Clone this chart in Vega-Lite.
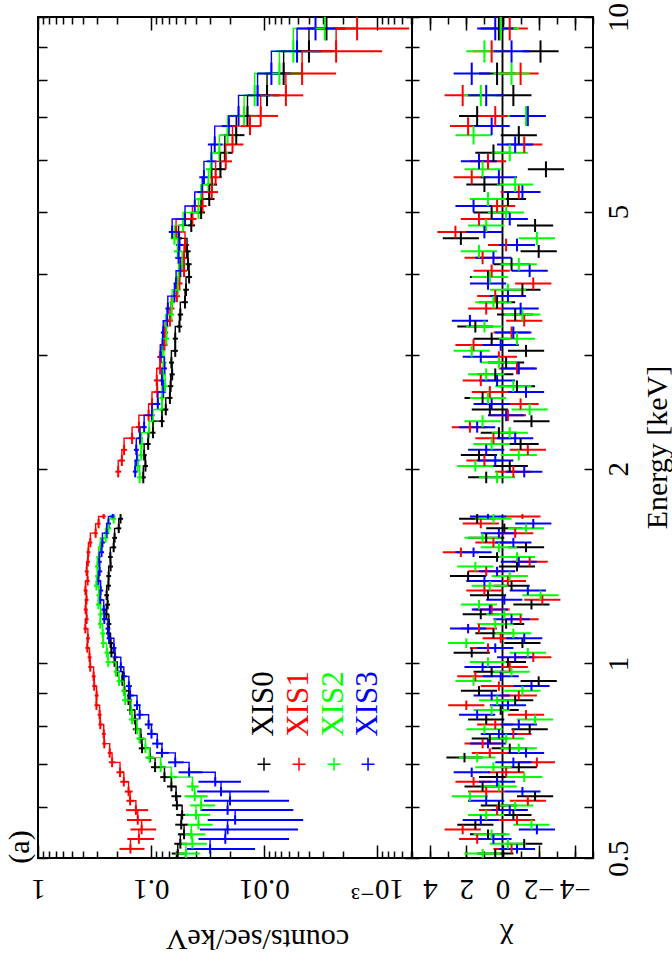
{
"$schema":"https://vega.github.io/schema/vega-lite/v6.json",
"background":"white",
"padding":{"left":3,"top":1,"right":0,"bottom":0},
"spacing":0,
"bounds":"flush",
"config":{
 "view":{"stroke":"#000","strokeWidth":2},
 "text":{"font":"'Liberation Serif', 'Times New Roman', 'DejaVu Serif', serif"},
 "axis":{"domain":false,"grid":false,"labelFont":"'Liberation Serif', 'Times New Roman', 'DejaVu Serif', serif","titleFont":"'Liberation Serif', 'Times New Roman', 'DejaVu Serif', serif","labelFontSize":29,"titleFontSize":30,"labelColor":"#000","titleColor":"#000","tickColor":"#000","tickWidth":1.5,"titleFontWeight":"normal","labelOverlap":false,"labelFlush":false,"labelBound":false}
},
"datasets":{
"leg":[{"d":"XIS0","x":0.01},{"d":"XIS1","x":0.0049},{"d":"XIS2","x":0.0024},{"d":"XIS3","x":0.0012}],
"zero":[{"a":0.5,"b":1.7},{"a":1.9,"b":10}],
"spec":[
{"d":"XIS0","e":0.508,"w":0.0085,"c":0.058,"u":0.0075,"r":0.4,"s":1},
{"d":"XIS0","e":0.526,"w":0.009,"c":0.055,"u":0.0072,"r":-1.2,"s":1},
{"d":"XIS0","e":0.544,"w":0.0095,"c":0.051,"u":0.0068,"r":0.8,"s":1},
{"d":"XIS0","e":0.563,"w":0.0095,"c":0.054,"u":0.007,"r":1.5,"s":1},
{"d":"XIS0","e":0.583,"w":0.01,"c":0.053,"u":0.0068,"r":-0.6,"s":1},
{"d":"XIS0","e":0.603,"w":0.01,"c":0.059,"u":0.006,"r":0.2,"s":1},
{"d":"XIS0","e":0.623,"w":0.0105,"c":0.060,"u":0.006,"r":-1.8,"s":1},
{"d":"XIS0","e":0.645,"w":0.011,"c":0.066,"u":0.0062,"r":1.1,"s":1},
{"d":"XIS0","e":0.667,"w":0.0115,"c":0.076,"u":0.0068,"r":0.3,"s":1},
{"d":"XIS0","e":0.691,"w":0.012,"c":0.092,"u":0.008,"r":-0.9,"s":1},
{"d":"XIS0","e":0.715,"w":0.012,"c":0.102,"u":0.0072,"r":2.1,"s":1},
{"d":"XIS0","e":0.739,"w":0.0125,"c":0.120,"u":0.0082,"r":-0.4,"s":1},
{"d":"XIS0","e":0.765,"w":0.013,"c":0.123,"u":0.0085,"r":0.7,"s":1},
{"d":"XIS0","e":0.791,"w":0.0135,"c":0.136,"u":0.009,"r":-1.5,"s":1},
{"d":"XIS0","e":0.819,"w":0.014,"c":0.139,"u":0.0095,"r":0.9,"s":1},
{"d":"XIS0","e":0.847,"w":0.0145,"c":0.152,"u":0.0102,"r":0.1,"s":1},
{"d":"XIS0","e":0.877,"w":0.015,"c":0.158,"u":0.0108,"r":-0.7,"s":1},
{"d":"XIS0","e":0.907,"w":0.0155,"c":0.172,"u":0.0088,"r":1.3,"s":1},
{"d":"XIS0","e":0.939,"w":0.016,"c":0.179,"u":0.009,"r":-2.0,"s":1},
{"d":"XIS0","e":0.971,"w":0.0165,"c":0.199,"u":0.0098,"r":0.6,"s":1},
{"d":"XIS0","e":1.005,"w":0.017,"c":0.210,"u":0.0104,"r":-0.3,"s":1},
{"d":"XIS0","e":1.039,"w":0.0175,"c":0.224,"u":0.011,"r":1.7,"s":1},
{"d":"XIS0","e":1.075,"w":0.0185,"c":0.228,"u":0.0112,"r":-1.1,"s":1},
{"d":"XIS0","e":1.113,"w":0.019,"c":0.238,"u":0.0116,"r":0.5,"s":1},
{"d":"XIS0","e":1.151,"w":0.0195,"c":0.236,"u":0.0116,"r":-0.2,"s":1},
{"d":"XIS0","e":1.191,"w":0.0205,"c":0.248,"u":0.012,"r":1.2,"s":1},
{"d":"XIS0","e":1.233,"w":0.021,"c":0.242,"u":0.0118,"r":-1.6,"s":1},
{"d":"XIS0","e":1.275,"w":0.0215,"c":0.247,"u":0.012,"r":0.8,"s":1},
{"d":"XIS0","e":1.319,"w":0.0225,"c":0.238,"u":0.0116,"r":-0.5,"s":1},
{"d":"XIS0","e":1.365,"w":0.023,"c":0.237,"u":0.0116,"r":1.9,"s":1},
{"d":"XIS0","e":1.412,"w":0.024,"c":0.228,"u":0.0112,"r":-0.8,"s":1},
{"d":"XIS0","e":1.461,"w":0.025,"c":0.229,"u":0.011,"r":0.3,"s":1},
{"d":"XIS0","e":1.512,"w":0.026,"c":0.214,"u":0.0106,"r":-1.3,"s":1},
{"d":"XIS0","e":1.564,"w":0.0265,"c":0.210,"u":0.0102,"r":0.9,"s":1},
{"d":"XIS0","e":1.618,"w":0.0275,"c":0.193,"u":0.0096,"r":-0.1,"s":1},
{"d":"XIS0","e":1.674,"w":0.0285,"c":0.186,"u":0.0094,"r":1.4,"s":1},
{"d":"XIS0","e":1.94,"w":0.04,"c":0.117,"u":0.0058,"r":0.9,"s":1},
{"d":"XIS0","e":2.02,"w":0.04,"c":0.112,"u":0.0056,"r":-0.4,"s":1},
{"d":"XIS0","e":2.10,"w":0.04,"c":0.115,"u":0.0057,"r":1.3,"s":1},
{"d":"XIS0","e":2.185,"w":0.045,"c":0.106,"u":0.0053,"r":-1.0,"s":1},
{"d":"XIS0","e":2.275,"w":0.045,"c":0.096,"u":0.0048,"r":0.2,"s":1},
{"d":"XIS0","e":2.37,"w":0.05,"c":0.080,"u":0.0041,"r":-1.6,"s":1},
{"d":"XIS0","e":2.47,"w":0.05,"c":0.074,"u":0.0038,"r":0.7,"s":1},
{"d":"XIS0","e":2.575,"w":0.055,"c":0.068,"u":0.0035,"r":1.1,"s":1},
{"d":"XIS0","e":2.685,"w":0.055,"c":0.067,"u":0.0035,"r":-0.8,"s":1},
{"d":"XIS0","e":2.80,"w":0.06,"c":0.065,"u":0.0034,"r":0.4,"s":1},
{"d":"XIS0","e":2.92,"w":0.06,"c":0.066,"u":0.0034,"r":-0.2,"s":1},
{"d":"XIS0","e":3.045,"w":0.065,"c":0.061,"u":0.0032,"r":-1.3,"s":1},
{"d":"XIS0","e":3.18,"w":0.07,"c":0.061,"u":0.0032,"r":0.6,"s":1},
{"d":"XIS0","e":3.32,"w":0.07,"c":0.056,"u":0.003,"r":1.5,"s":1},
{"d":"XIS0","e":3.465,"w":0.075,"c":0.055,"u":0.003,"r":-0.7,"s":1},
{"d":"XIS0","e":3.62,"w":0.08,"c":0.050,"u":0.0028,"r":0.3,"s":1},
{"d":"XIS0","e":3.785,"w":0.085,"c":0.049,"u":0.0028,"r":-1.1,"s":1},
{"d":"XIS0","e":3.96,"w":0.09,"c":0.046,"u":0.0027,"r":0.8,"s":1},
{"d":"XIS0","e":4.145,"w":0.095,"c":0.047,"u":0.0033,"r":-0.5,"s":1},
{"d":"XIS0","e":4.34,"w":0.1,"c":0.048,"u":0.0034,"r":-2.0,"s":1},
{"d":"XIS0","e":4.545,"w":0.105,"c":0.057,"u":0.0038,"r":2.3,"s":1},
{"d":"XIS0","e":4.76,"w":0.11,"c":0.044,"u":0.0032,"r":-1.8,"s":1},
{"d":"XIS0","e":4.985,"w":0.115,"c":0.036,"u":0.0027,"r":0.6,"s":1},
{"d":"XIS0","e":5.23,"w":0.13,"c":0.0305,"u":0.0031,"r":-0.3,"s":1},
{"d":"XIS0","e":5.505,"w":0.145,"c":0.029,"u":0.003,"r":1.0,"s":1},
{"d":"XIS0","e":5.815,"w":0.165,"c":0.0243,"u":0.0026,"r":-2.4,"s":1},
{"d":"XIS0","e":6.165,"w":0.185,"c":0.0222,"u":0.0033,"r":0.5,"s":1},
{"d":"XIS0","e":6.565,"w":0.215,"c":0.0176,"u":0.0027,"r":-0.9,"s":1},
{"d":"XIS0","e":7.03,"w":0.25,"c":0.0140,"u":0.0031,"r":1.4,"s":1},
{"d":"XIS0","e":7.565,"w":0.285,"c":0.0094,"u":0.0021,"r":-0.6,"s":1},
{"d":"XIS0","e":8.175,"w":0.325,"c":0.0067,"u":0.0022,"r":0.3,"s":1},
{"d":"XIS0","e":8.85,"w":0.35,"c":0.0040,"u":0.0016,"r":-2.1,"s":1},
{"d":"XIS0","e":9.6,"w":0.4,"c":0.0028,"u":0.0013,"r":0.2,"s":1},
{"d":"XIS1","e":0.5165,"w":0.0085,"c":0.152,"u":0.038,"r":-0.5,"s":1},
{"d":"XIS1","e":0.535,"w":0.009,"c":0.128,"u":0.034,"r":1.4,"s":1},
{"d":"XIS1","e":0.5535,"w":0.0095,"c":0.121,"u":0.031,"r":2.2,"s":1},
{"d":"XIS1","e":0.5725,"w":0.0095,"c":0.131,"u":0.032,"r":-0.8,"s":1},
{"d":"XIS1","e":0.593,"w":0.01,"c":0.136,"u":0.03,"r":0.3,"s":1},
{"d":"XIS1","e":0.613,"w":0.01,"c":0.153,"u":0.012,"r":-1.4,"s":1},
{"d":"XIS1","e":0.6335,"w":0.0105,"c":0.158,"u":0.0125,"r":0.9,"s":1},
{"d":"XIS1","e":0.656,"w":0.011,"c":0.174,"u":0.013,"r":1.6,"s":1},
{"d":"XIS1","e":0.6785,"w":0.0115,"c":0.188,"u":0.014,"r":-0.2,"s":1},
{"d":"XIS1","e":0.703,"w":0.012,"c":0.221,"u":0.015,"r":-1.9,"s":1},
{"d":"XIS1","e":0.727,"w":0.012,"c":0.232,"u":0.0093,"r":0.7,"s":1},
{"d":"XIS1","e":0.7515,"w":0.0125,"c":0.259,"u":0.0104,"r":1.1,"s":1},
{"d":"XIS1","e":0.778,"w":0.013,"c":0.262,"u":0.0105,"r":-0.6,"s":1},
{"d":"XIS1","e":0.8045,"w":0.0135,"c":0.281,"u":0.0112,"r":0.4,"s":1},
{"d":"XIS1","e":0.833,"w":0.014,"c":0.285,"u":0.0114,"r":-1.3,"s":1},
{"d":"XIS1","e":0.8615,"w":0.0145,"c":0.304,"u":0.0122,"r":2.0,"s":1},
{"d":"XIS1","e":0.892,"w":0.015,"c":0.303,"u":0.0121,"r":-0.9,"s":1},
{"d":"XIS1","e":0.9225,"w":0.0155,"c":0.318,"u":0.0127,"r":0.2,"s":1},
{"d":"XIS1","e":0.955,"w":0.016,"c":0.322,"u":0.0129,"r":1.5,"s":1},
{"d":"XIS1","e":0.9875,"w":0.0165,"c":0.345,"u":0.0138,"r":-0.4,"s":1},
{"d":"XIS1","e":1.022,"w":0.017,"c":0.350,"u":0.014,"r":-1.7,"s":1},
{"d":"XIS1","e":1.0565,"w":0.0175,"c":0.366,"u":0.0146,"r":0.8,"s":1},
{"d":"XIS1","e":1.0935,"w":0.0185,"c":0.362,"u":0.0145,"r":0.1,"s":1},
{"d":"XIS1","e":1.132,"w":0.019,"c":0.381,"u":0.0152,"r":1.3,"s":1},
{"d":"XIS1","e":1.1705,"w":0.0195,"c":0.371,"u":0.0148,"r":-1.0,"s":1},
{"d":"XIS1","e":1.2115,"w":0.0205,"c":0.379,"u":0.0152,"r":0.6,"s":1},
{"d":"XIS1","e":1.254,"w":0.021,"c":0.372,"u":0.0149,"r":-2.2,"s":1},
{"d":"XIS1","e":1.2965,"w":0.0215,"c":0.380,"u":0.0152,"r":1.0,"s":1},
{"d":"XIS1","e":1.3415,"w":0.0225,"c":0.364,"u":0.0146,"r":-0.3,"s":1},
{"d":"XIS1","e":1.388,"w":0.023,"c":0.371,"u":0.0148,"r":0.9,"s":1},
{"d":"XIS1","e":1.436,"w":0.024,"c":0.362,"u":0.0145,"r":-1.5,"s":1},
{"d":"XIS1","e":1.486,"w":0.025,"c":0.358,"u":0.0143,"r":2.3,"s":1},
{"d":"XIS1","e":1.538,"w":0.026,"c":0.344,"u":0.0138,"r":0.5,"s":1},
{"d":"XIS1","e":1.5905,"w":0.0265,"c":0.309,"u":0.0124,"r":-0.7,"s":1},
{"d":"XIS1","e":1.6455,"w":0.0275,"c":0.291,"u":0.0116,"r":1.2,"s":1},
{"d":"XIS1","e":1.688,"w":0.015,"c":0.262,"u":0.0105,"r":-1.1,"s":1},
{"d":"XIS1","e":1.98,"w":0.04,"c":0.195,"u":0.0117,"r":-0.6,"s":1},
{"d":"XIS1","e":2.06,"w":0.04,"c":0.181,"u":0.0109,"r":1.0,"s":1},
{"d":"XIS1","e":2.14,"w":0.04,"c":0.173,"u":0.0104,"r":-1.4,"s":1},
{"d":"XIS1","e":2.23,"w":0.045,"c":0.147,"u":0.0088,"r":0.5,"s":1},
{"d":"XIS1","e":2.32,"w":0.045,"c":0.128,"u":0.0077,"r":1.8,"s":1},
{"d":"XIS1","e":2.42,"w":0.05,"c":0.105,"u":0.0063,"r":-0.3,"s":1},
{"d":"XIS1","e":2.52,"w":0.05,"c":0.098,"u":0.0059,"r":-1.0,"s":1},
{"d":"XIS1","e":2.63,"w":0.055,"c":0.088,"u":0.0053,"r":0.7,"s":1},
{"d":"XIS1","e":2.74,"w":0.055,"c":0.089,"u":0.0053,"r":1.2,"s":1},
{"d":"XIS1","e":2.86,"w":0.06,"c":0.083,"u":0.005,"r":-0.8,"s":1},
{"d":"XIS1","e":2.98,"w":0.06,"c":0.083,"u":0.005,"r":0.2,"s":1},
{"d":"XIS1","e":3.11,"w":0.065,"c":0.076,"u":0.0046,"r":1.6,"s":1},
{"d":"XIS1","e":3.25,"w":0.07,"c":0.075,"u":0.0045,"r":-0.5,"s":1},
{"d":"XIS1","e":3.39,"w":0.07,"c":0.068,"u":0.0041,"r":-1.2,"s":1},
{"d":"XIS1","e":3.54,"w":0.075,"c":0.066,"u":0.004,"r":0.9,"s":1},
{"d":"XIS1","e":3.70,"w":0.08,"c":0.059,"u":0.0035,"r":0.4,"s":1},
{"d":"XIS1","e":3.87,"w":0.085,"c":0.056,"u":0.0034,"r":-1.7,"s":1},
{"d":"XIS1","e":4.05,"w":0.09,"c":0.051,"u":0.0031,"r":0.6,"s":1},
{"d":"XIS1","e":4.24,"w":0.095,"c":0.051,"u":0.0041,"r":1.1,"s":1},
{"d":"XIS1","e":4.44,"w":0.1,"c":0.050,"u":0.004,"r":-0.2,"s":1},
{"d":"XIS1","e":4.65,"w":0.105,"c":0.060,"u":0.0048,"r":2.6,"s":1},
{"d":"XIS1","e":4.87,"w":0.11,"c":0.043,"u":0.0034,"r":1.3,"s":1},
{"d":"XIS1","e":5.10,"w":0.115,"c":0.035,"u":0.0028,"r":0.3,"s":1},
{"d":"XIS1","e":5.36,"w":0.13,"c":0.029,"u":0.0035,"r":-0.9,"s":1},
{"d":"XIS1","e":5.65,"w":0.145,"c":0.0268,"u":0.0032,"r":1.7,"s":1},
{"d":"XIS1","e":5.98,"w":0.165,"c":0.0218,"u":0.0026,"r":0.8,"s":1},
{"d":"XIS1","e":6.35,"w":0.185,"c":0.0190,"u":0.0038,"r":-1.2,"s":1},
{"d":"XIS1","e":6.78,"w":0.215,"c":0.0133,"u":0.0027,"r":1.9,"s":1},
{"d":"XIS1","e":7.03,"w":0.25,"c":0.0107,"u":0.0032,"r":0.4,"s":1},
{"d":"XIS1","e":7.565,"w":0.285,"c":0.0064,"u":0.0019,"r":2.2,"s":1},
{"d":"XIS1","e":8.175,"w":0.325,"c":0.0046,"u":0.0023,"r":-1.0,"s":1},
{"d":"XIS1","e":8.85,"w":0.35,"c":0.0023,"u":0.0014,"r":0.6,"s":1},
{"d":"XIS1","e":9.6,"w":0.4,"c":0.0015,"u":0.00098,"r":-0.4,"s":1},
{"d":"XIS2","e":0.508,"w":0.0085,"c":0.049,"u":0.012,"r":1.1,"s":1},
{"d":"XIS2","e":0.526,"w":0.009,"c":0.043,"u":0.011,"r":-0.3,"s":1},
{"d":"XIS2","e":0.544,"w":0.0095,"c":0.044,"u":0.011,"r":0.6,"s":1},
{"d":"XIS2","e":0.563,"w":0.0095,"c":0.038,"u":0.0095,"r":-1.6,"s":1},
{"d":"XIS2","e":0.583,"w":0.01,"c":0.040,"u":0.01,"r":0.9,"s":1},
{"d":"XIS2","e":0.603,"w":0.01,"c":0.036,"u":0.009,"r":-0.7,"s":1},
{"d":"XIS2","e":0.623,"w":0.0105,"c":0.041,"u":0.0095,"r":1.8,"s":1},
{"d":"XIS2","e":0.645,"w":0.011,"c":0.043,"u":0.0052,"r":0.2,"s":1},
{"d":"XIS2","e":0.667,"w":0.0115,"c":0.066,"u":0.0075,"r":-1.2,"s":1},
{"d":"XIS2","e":0.691,"w":0.012,"c":0.082,"u":0.0085,"r":0.5,"s":1},
{"d":"XIS2","e":0.715,"w":0.012,"c":0.103,"u":0.0095,"r":1.4,"s":1},
{"d":"XIS2","e":0.739,"w":0.0125,"c":0.112,"u":0.0078,"r":-0.9,"s":1},
{"d":"XIS2","e":0.765,"w":0.013,"c":0.126,"u":0.0088,"r":-0.2,"s":1},
{"d":"XIS2","e":0.791,"w":0.0135,"c":0.133,"u":0.0093,"r":1.0,"s":1},
{"d":"XIS2","e":0.819,"w":0.014,"c":0.147,"u":0.0103,"r":-1.8,"s":1},
{"d":"XIS2","e":0.847,"w":0.0145,"c":0.150,"u":0.0105,"r":0.6,"s":1},
{"d":"XIS2","e":0.877,"w":0.015,"c":0.169,"u":0.0118,"r":0.3,"s":1},
{"d":"XIS2","e":0.907,"w":0.0155,"c":0.174,"u":0.0087,"r":-1.1,"s":1},
{"d":"XIS2","e":0.939,"w":0.016,"c":0.192,"u":0.0096,"r":1.6,"s":1},
{"d":"XIS2","e":0.971,"w":0.0165,"c":0.204,"u":0.0102,"r":-0.5,"s":1},
{"d":"XIS2","e":1.005,"w":0.017,"c":0.239,"u":0.012,"r":0.8,"s":1},
{"d":"XIS2","e":1.039,"w":0.0175,"c":0.246,"u":0.0123,"r":-1.4,"s":1},
{"d":"XIS2","e":1.075,"w":0.0185,"c":0.265,"u":0.0133,"r":2.0,"s":1},
{"d":"XIS2","e":1.113,"w":0.019,"c":0.268,"u":0.0134,"r":-0.6,"s":1},
{"d":"XIS2","e":1.151,"w":0.0195,"c":0.281,"u":0.014,"r":0.4,"s":1},
{"d":"XIS2","e":1.191,"w":0.0205,"c":0.279,"u":0.014,"r":-0.1,"s":1},
{"d":"XIS2","e":1.233,"w":0.021,"c":0.292,"u":0.0146,"r":1.3,"s":1},
{"d":"XIS2","e":1.275,"w":0.0215,"c":0.290,"u":0.0145,"r":-2.1,"s":1},
{"d":"XIS2","e":1.319,"w":0.0225,"c":0.304,"u":0.0152,"r":0.7,"s":1},
{"d":"XIS2","e":1.365,"w":0.023,"c":0.297,"u":0.0149,"r":-0.4,"s":1},
{"d":"XIS2","e":1.412,"w":0.024,"c":0.298,"u":0.0149,"r":1.5,"s":1},
{"d":"XIS2","e":1.461,"w":0.025,"c":0.290,"u":0.0145,"r":-0.8,"s":1},
{"d":"XIS2","e":1.512,"w":0.026,"c":0.281,"u":0.014,"r":0.2,"s":1},
{"d":"XIS2","e":1.564,"w":0.0265,"c":0.252,"u":0.0126,"r":1.1,"s":1},
{"d":"XIS2","e":1.618,"w":0.0275,"c":0.238,"u":0.0119,"r":-1.3,"s":1},
{"d":"XIS2","e":1.674,"w":0.0285,"c":0.214,"u":0.0107,"r":0.5,"s":1},
{"d":"XIS2","e":1.94,"w":0.04,"c":0.126,"u":0.0069,"r":0.3,"s":1},
{"d":"XIS2","e":2.02,"w":0.04,"c":0.131,"u":0.0072,"r":1.5,"s":1},
{"d":"XIS2","e":2.10,"w":0.04,"c":0.122,"u":0.0067,"r":-0.9,"s":1},
{"d":"XIS2","e":2.185,"w":0.045,"c":0.121,"u":0.0067,"r":0.6,"s":1},
{"d":"XIS2","e":2.275,"w":0.045,"c":0.104,"u":0.0057,"r":-0.4,"s":1},
{"d":"XIS2","e":2.37,"w":0.05,"c":0.096,"u":0.0053,"r":1.1,"s":1},
{"d":"XIS2","e":2.47,"w":0.05,"c":0.080,"u":0.0044,"r":-1.5,"s":1},
{"d":"XIS2","e":2.575,"w":0.055,"c":0.080,"u":0.0044,"r":0.8,"s":1},
{"d":"XIS2","e":2.685,"w":0.055,"c":0.075,"u":0.0041,"r":-0.6,"s":1},
{"d":"XIS2","e":2.80,"w":0.06,"c":0.078,"u":0.0043,"r":0.9,"s":1},
{"d":"XIS2","e":2.92,"w":0.06,"c":0.077,"u":0.0042,"r":0.2,"s":1},
{"d":"XIS2","e":3.045,"w":0.065,"c":0.080,"u":0.0044,"r":1.7,"s":1},
{"d":"XIS2","e":3.18,"w":0.07,"c":0.073,"u":0.004,"r":-0.8,"s":1},
{"d":"XIS2","e":3.32,"w":0.07,"c":0.074,"u":0.0041,"r":1.0,"s":1},
{"d":"XIS2","e":3.465,"w":0.075,"c":0.066,"u":0.0036,"r":-1.1,"s":1},
{"d":"XIS2","e":3.62,"w":0.08,"c":0.065,"u":0.0036,"r":0.5,"s":1},
{"d":"XIS2","e":3.785,"w":0.085,"c":0.058,"u":0.0032,"r":-0.3,"s":1},
{"d":"XIS2","e":3.96,"w":0.09,"c":0.057,"u":0.0031,"r":0.7,"s":1},
{"d":"XIS2","e":4.145,"w":0.095,"c":0.053,"u":0.0042,"r":-0.9,"s":1},
{"d":"XIS2","e":4.34,"w":0.1,"c":0.058,"u":0.0046,"r":1.3,"s":1},
{"d":"XIS2","e":4.545,"w":0.105,"c":0.062,"u":0.005,"r":-1.9,"s":1},
{"d":"XIS2","e":4.76,"w":0.11,"c":0.052,"u":0.0042,"r":0.9,"s":1},
{"d":"XIS2","e":4.985,"w":0.115,"c":0.038,"u":0.003,"r":-0.2,"s":1},
{"d":"XIS2","e":5.23,"w":0.13,"c":0.0362,"u":0.004,"r":0.8,"s":1},
{"d":"XIS2","e":5.505,"w":0.145,"c":0.0310,"u":0.0034,"r":-0.7,"s":1},
{"d":"XIS2","e":5.815,"w":0.165,"c":0.0296,"u":0.0033,"r":1.1,"s":1},
{"d":"XIS2","e":6.165,"w":0.185,"c":0.0248,"u":0.004,"r":-0.4,"s":1},
{"d":"XIS2","e":6.565,"w":0.215,"c":0.0210,"u":0.0034,"r":1.6,"s":1},
{"d":"XIS2","e":7.03,"w":0.25,"c":0.0150,"u":0.0036,"r":-1.3,"s":1},
{"d":"XIS2","e":7.565,"w":0.285,"c":0.0121,"u":0.0029,"r":1.2,"s":1},
{"d":"XIS2","e":8.175,"w":0.325,"c":0.0073,"u":0.0026,"r":-0.5,"s":1},
{"d":"XIS2","e":8.85,"w":0.35,"c":0.0055,"u":0.0023,"r":1.0,"s":1},
{"d":"XIS2","e":9.6,"w":0.4,"c":0.0029,"u":0.0014,"r":0.1,"s":1},
{"d":"XIS3","e":0.5165,"w":0.0085,"c":0.030,"u":0.018,"r":-0.8,"s":1},
{"d":"XIS3","e":0.535,"w":0.009,"c":0.022,"u":0.016,"r":0.5,"s":1},
{"d":"XIS3","e":0.5535,"w":0.0095,"c":0.021,"u":0.016,"r":-1.9,"s":1},
{"d":"XIS3","e":0.5725,"w":0.0095,"c":0.018,"u":0.0135,"r":1.2,"s":1},
{"d":"XIS3","e":0.593,"w":0.01,"c":0.021,"u":0.0155,"r":-0.4,"s":1},
{"d":"XIS3","e":0.613,"w":0.01,"c":0.020,"u":0.014,"r":0.9,"s":1},
{"d":"XIS3","e":0.6335,"w":0.0105,"c":0.024,"u":0.015,"r":-1.1,"s":1},
{"d":"XIS3","e":0.656,"w":0.011,"c":0.027,"u":0.011,"r":0.3,"s":1},
{"d":"XIS3","e":0.6785,"w":0.0115,"c":0.046,"u":0.011,"r":1.7,"s":1},
{"d":"XIS3","e":0.703,"w":0.012,"c":0.061,"u":0.0095,"r":-0.6,"s":1},
{"d":"XIS3","e":0.727,"w":0.012,"c":0.080,"u":0.0105,"r":-1.3,"s":1},
{"d":"XIS3","e":0.7515,"w":0.0125,"c":0.088,"u":0.0097,"r":0.8,"s":1},
{"d":"XIS3","e":0.778,"w":0.013,"c":0.099,"u":0.0095,"r":0.2,"s":1},
{"d":"XIS3","e":0.8045,"w":0.0135,"c":0.105,"u":0.0084,"r":-0.9,"s":1},
{"d":"XIS3","e":0.833,"w":0.014,"c":0.126,"u":0.0088,"r":1.4,"s":1},
{"d":"XIS3","e":0.8615,"w":0.0145,"c":0.133,"u":0.0093,"r":-0.3,"s":1},
{"d":"XIS3","e":0.892,"w":0.015,"c":0.153,"u":0.0106,"r":0.6,"s":1},
{"d":"XIS3","e":0.9225,"w":0.0155,"c":0.157,"u":0.0094,"r":-1.6,"s":1},
{"d":"XIS3","e":0.955,"w":0.016,"c":0.174,"u":0.0104,"r":0.1,"s":1},
{"d":"XIS3","e":0.9875,"w":0.0165,"c":0.185,"u":0.0093,"r":1.1,"s":1},
{"d":"XIS3","e":1.022,"w":0.017,"c":0.208,"u":0.0104,"r":-0.7,"s":1},
{"d":"XIS3","e":1.0565,"w":0.0175,"c":0.213,"u":0.0107,"r":0.4,"s":1},
{"d":"XIS3","e":1.0935,"w":0.0185,"c":0.235,"u":0.0118,"r":-1.2,"s":1},
{"d":"XIS3","e":1.132,"w":0.019,"c":0.241,"u":0.012,"r":1.9,"s":1},
{"d":"XIS3","e":1.1705,"w":0.0195,"c":0.259,"u":0.013,"r":-0.5,"s":1},
{"d":"XIS3","e":1.2115,"w":0.0205,"c":0.262,"u":0.0131,"r":0.7,"s":1},
{"d":"XIS3","e":1.254,"w":0.021,"c":0.281,"u":0.0141,"r":-0.1,"s":1},
{"d":"XIS3","e":1.2965,"w":0.0215,"c":0.279,"u":0.014,"r":-1.4,"s":1},
{"d":"XIS3","e":1.3415,"w":0.0225,"c":0.292,"u":0.0146,"r":1.0,"s":1},
{"d":"XIS3","e":1.388,"w":0.023,"c":0.285,"u":0.0143,"r":0.3,"s":1},
{"d":"XIS3","e":1.436,"w":0.024,"c":0.287,"u":0.0144,"r":-0.9,"s":1},
{"d":"XIS3","e":1.486,"w":0.025,"c":0.274,"u":0.0137,"r":1.6,"s":1},
{"d":"XIS3","e":1.538,"w":0.026,"c":0.269,"u":0.0135,"r":-0.6,"s":1},
{"d":"XIS3","e":1.5905,"w":0.0265,"c":0.247,"u":0.0124,"r":0.2,"s":1},
{"d":"XIS3","e":1.6455,"w":0.0275,"c":0.238,"u":0.012,"r":-1.7,"s":1},
{"d":"XIS3","e":1.688,"w":0.015,"c":0.218,"u":0.0109,"r":0.8,"s":1},
{"d":"XIS3","e":1.98,"w":0.04,"c":0.138,"u":0.0069,"r":-1.2,"s":1},
{"d":"XIS3","e":2.06,"w":0.04,"c":0.133,"u":0.0067,"r":0.4,"s":1},
{"d":"XIS3","e":2.14,"w":0.04,"c":0.135,"u":0.0068,"r":0.9,"s":1},
{"d":"XIS3","e":2.23,"w":0.045,"c":0.125,"u":0.0063,"r":-0.7,"s":1},
{"d":"XIS3","e":2.32,"w":0.045,"c":0.115,"u":0.0058,"r":1.4,"s":1},
{"d":"XIS3","e":2.42,"w":0.05,"c":0.098,"u":0.0049,"r":-0.2,"s":1},
{"d":"XIS3","e":2.52,"w":0.05,"c":0.087,"u":0.0044,"r":0.6,"s":1},
{"d":"XIS3","e":2.63,"w":0.055,"c":0.078,"u":0.0039,"r":-1.3,"s":1},
{"d":"XIS3","e":2.74,"w":0.055,"c":0.080,"u":0.004,"r":0.3,"s":1},
{"d":"XIS3","e":2.86,"w":0.06,"c":0.076,"u":0.0038,"r":-0.9,"s":1},
{"d":"XIS3","e":2.98,"w":0.06,"c":0.082,"u":0.0041,"r":1.2,"s":1},
{"d":"XIS3","e":3.11,"w":0.065,"c":0.079,"u":0.004,"r":0.1,"s":1},
{"d":"XIS3","e":3.25,"w":0.07,"c":0.078,"u":0.0039,"r":-0.6,"s":1},
{"d":"XIS3","e":3.39,"w":0.07,"c":0.072,"u":0.0036,"r":1.8,"s":1},
{"d":"XIS3","e":3.54,"w":0.075,"c":0.071,"u":0.0036,"r":-1.0,"s":1},
{"d":"XIS3","e":3.70,"w":0.08,"c":0.062,"u":0.0031,"r":-0.3,"s":1},
{"d":"XIS3","e":3.87,"w":0.085,"c":0.060,"u":0.003,"r":0.8,"s":1},
{"d":"XIS3","e":4.05,"w":0.09,"c":0.055,"u":0.0028,"r":-1.5,"s":1},
{"d":"XIS3","e":4.24,"w":0.095,"c":0.057,"u":0.004,"r":0.5,"s":1},
{"d":"XIS3","e":4.44,"w":0.1,"c":0.056,"u":0.0039,"r":-0.8,"s":1},
{"d":"XIS3","e":4.65,"w":0.105,"c":0.065,"u":0.0046,"r":1.0,"s":1},
{"d":"XIS3","e":4.87,"w":0.11,"c":0.050,"u":0.0035,"r":-0.4,"s":1},
{"d":"XIS3","e":5.10,"w":0.115,"c":0.041,"u":0.0029,"r":1.6,"s":1},
{"d":"XIS3","e":5.36,"w":0.13,"c":0.0352,"u":0.0035,"r":-1.1,"s":1},
{"d":"XIS3","e":5.65,"w":0.145,"c":0.0340,"u":0.0034,"r":0.2,"s":1},
{"d":"XIS3","e":5.98,"w":0.165,"c":0.0292,"u":0.0029,"r":1.3,"s":1},
{"d":"XIS3","e":6.35,"w":0.185,"c":0.0273,"u":0.0041,"r":-0.7,"s":1},
{"d":"XIS3","e":6.78,"w":0.215,"c":0.0205,"u":0.0031,"r":0.6,"s":1},
{"d":"XIS3","e":7.03,"w":0.25,"c":0.0168,"u":0.0037,"r":-1.4,"s":1},
{"d":"XIS3","e":7.565,"w":0.285,"c":0.0114,"u":0.0025,"r":0.9,"s":1},
{"d":"XIS3","e":8.175,"w":0.325,"c":0.0086,"u":0.0028,"r":1.7,"s":1},
{"d":"XIS3","e":8.85,"w":0.35,"c":0.0051,"u":0.002,"r":-0.5,"s":1},
{"d":"XIS3","e":9.6,"w":0.4,"c":0.0035,"u":0.0016,"r":0.4,"s":1}
]},
"hconcat":[
{
 "width":374,"height":841,
 "resolve":{"axis":{"x":"independent","y":"independent"}},
 "layer":[
  {"data":{"name":"spec"},
   "mark":{"type":"errorbar","ticks":false,"thickness":2,"clip":true},
   "encoding":{
    "x":{"field":"c","type":"quantitative","scale":{"type":"log","domain":[0.00049,1],"reverse":true,"nice":false},
     "axis":{"orient":"bottom","values":[1,0.1,0.01,0.001],"tickSize":-13,"labelAngle":180,"labelAlign":"center","labelBaseline":"middle","labelPadding":43,
      "labelExpr":"datum.value >= 0.9 ? '1' : datum.value >= 0.09 ? '0.1' : datum.value >= 0.009 ? '0.01' : '10⁻³'",
      "title":"counts/sec/keV","titleAngle":180,"titleAlign":"center","titleBaseline":"middle","titleX":219,"titleY":80}},
    "xError":{"field":"u"},
    "y":{"field":"e","type":"quantitative","scale":{"type":"log","domain":[0.5,10],"nice":false},
     "axis":{"orient":"left","values":[0.5,0.6,0.7,0.8,0.9,1,2,3,4,5,6,7,8,9,10],"tickSize":-9,"labels":false,"title":null}},
    "color":{"field":"d","type":"nominal","scale":{"domain":["XIS0","XIS1","XIS2","XIS3"],"range":["#000000","#ff0000","#00ff00","#0000ff"]},"legend":null}}},
  {"data":{"name":"spec"},
   "mark":{"type":"errorbar","ticks":false,"thickness":2,"clip":true},
   "encoding":{
    "x":{"field":"c","type":"quantitative","scale":{"type":"log","domain":[0.00049,1],"reverse":true,"nice":false},
     "axis":{"orient":"bottom","values":[0.9,0.8,0.7,0.6,0.5,0.4,0.3,0.2,0.09,0.08,0.07,0.06,0.05,0.04,0.03,0.02,0.009,0.008,0.007,0.006,0.005,0.004,0.003,0.002,0.0009,0.0008,0.0007,0.0006,0.0005],"tickSize":-7,"labels":false,"title":null}},
    "y":{"field":"e","type":"quantitative","scale":{"type":"log","domain":[0.5,10],"nice":false},
     "axis":{"orient":"right","values":[0.5,0.6,0.7,0.8,0.9,1,2,3,4,5,6,7,8,9,10],"tickSize":-7,"labels":false,"title":null}},
    "yError":{"field":"w"},
    "color":{"field":"d","type":"nominal","scale":{"domain":["XIS0","XIS1","XIS2","XIS3"],"range":["#000000","#ff0000","#00ff00","#0000ff"]},"legend":null}}},
  {"data":{"name":"spec"},
   "transform":[{"filter":"datum.e < 1.8"}],
   "mark":{"type":"line","interpolate":"step-before","strokeWidth":1.4,"clip":true},
   "encoding":{
    "x":{"field":"c","type":"quantitative","scale":{"type":"log","domain":[0.00049,1],"reverse":true,"nice":false},
     "axis":{"orient":"top","values":[1,0.1,0.01,0.001],"tickSize":-13,"labels":false,"title":null}},
    "y":{"field":"e","type":"quantitative","scale":{"type":"log","domain":[0.5,10],"nice":false},"axis":null},
    "order":{"field":"e","type":"quantitative"},
    "color":{"field":"d","type":"nominal","scale":{"domain":["XIS0","XIS1","XIS2","XIS3"],"range":["#000000","#ff0000","#00ff00","#0000ff"]},"legend":null}}},
  {"data":{"name":"spec"},
   "transform":[{"filter":"datum.e > 1.8"}],
   "mark":{"type":"line","interpolate":"step-before","strokeWidth":1.4,"clip":true},
   "encoding":{
    "x":{"field":"c","type":"quantitative","scale":{"type":"log","domain":[0.00049,1],"reverse":true,"nice":false},
     "axis":{"orient":"top","values":[0.9,0.8,0.7,0.6,0.5,0.4,0.3,0.2,0.09,0.08,0.07,0.06,0.05,0.04,0.03,0.02,0.009,0.008,0.007,0.006,0.005,0.004,0.003,0.002,0.0009,0.0008,0.0007,0.0006,0.0005],"tickSize":-7,"labels":false,"title":null}},
    "y":{"field":"e","type":"quantitative","scale":{"type":"log","domain":[0.5,10],"nice":false},"axis":null},
    "order":{"field":"e","type":"quantitative"},
    "color":{"field":"d","type":"nominal","scale":{"domain":["XIS0","XIS1","XIS2","XIS3"],"range":["#000000","#ff0000","#00ff00","#0000ff"]},"legend":null}}},
  {"data":{"name":"leg"},
   "mark":{"type":"text","angle":270,"align":"left","baseline":"middle","font":"'Liberation Serif', 'Times New Roman', 'DejaVu Serif', serif","fontSize":31},
   "encoding":{
    "x":{"field":"x","type":"quantitative","scale":{"type":"log","domain":[0.00049,1],"reverse":true,"nice":false},"axis":null},
    "y":{"datum":0.77,"type":"quantitative","scale":{"type":"log","domain":[0.5,10],"nice":false},"axis":null},
    "text":{"field":"d"},
    "color":{"field":"d","type":"nominal","scale":{"domain":["XIS0","XIS1","XIS2","XIS3"],"range":["#000000","#ff0000","#00ff00","#0000ff"]},"legend":null}}},
  {"data":{"name":"leg"},
   "mark":{"type":"point","shape":"M-1,0L1,0M0,-1L0,1","size":169,"strokeWidth":1.5,"filled":false,"opacity":1},
   "encoding":{
    "x":{"field":"x","type":"quantitative","scale":{"type":"log","domain":[0.00049,1],"reverse":true,"nice":false},"axis":null},
    "y":{"datum":0.698,"type":"quantitative","scale":{"type":"log","domain":[0.5,10],"nice":false},"axis":null},
    "color":{"field":"d","type":"nominal","scale":{"domain":["XIS0","XIS1","XIS2","XIS3"],"range":["#000000","#ff0000","#00ff00","#0000ff"]},"legend":null}}},
  {"data":{"values":[{"t":"(a)"}]},
   "mark":{"type":"text","angle":270,"align":"center","baseline":"middle","font":"'Liberation Serif', 'Times New Roman', 'DejaVu Serif', serif","fontSize":30,"color":"#000"},
   "encoding":{
    "x":{"datum":1.45,"type":"quantitative","scale":{"type":"log","domain":[0.00049,1],"reverse":true,"nice":false},"axis":null},
    "y":{"datum":0.52,"type":"quantitative","scale":{"type":"log","domain":[0.5,10],"nice":false},"axis":null},
    "text":{"field":"t"}}}
 ]
},
{
 "width":181,"height":841,
 "resolve":{"axis":{"x":"independent","y":"independent"}},
 "layer":[
  {"data":{"name":"zero"},
   "mark":{"type":"rule","color":"#000","strokeWidth":1.5},
   "encoding":{
    "x":{"datum":0,"type":"quantitative","scale":{"type":"linear","domain":[-5,5],"reverse":true,"nice":false,"zero":false},
     "axis":{"orient":"top","values":[-4,-2,0,2,4],"tickSize":-13,"labels":false,"title":null}},
    "y":{"field":"a","type":"quantitative","scale":{"type":"log","domain":[0.5,10],"nice":false},"axis":null},
    "y2":{"field":"b"}}},
  {"data":{"name":"zero"},
   "mark":{"type":"rule","color":"#000","strokeWidth":1.5},
   "encoding":{
    "x":{"datum":0,"type":"quantitative","scale":{"type":"linear","domain":[-5,5],"reverse":true,"nice":false,"zero":false},
     "axis":{"orient":"top","values":[-5,-4,-3,-2,-1,0,1,2,3,4,5],"tickSize":-7,"labels":false,"title":null}},
    "y":{"field":"a","type":"quantitative","scale":{"type":"log","domain":[0.5,10],"nice":false},"axis":null},
    "y2":{"field":"b"}}},
  {"data":{"name":"spec"},
   "mark":{"type":"errorbar","ticks":false,"thickness":2,"clip":true},
   "encoding":{
    "x":{"field":"r","type":"quantitative","scale":{"type":"linear","domain":[-5,5],"reverse":true,"nice":false,"zero":false},
     "axis":{"orient":"bottom","values":[-4,-2,0,2,4],"tickSize":-13,"labelAngle":180,"labelAlign":"center","labelBaseline":"middle","labelPadding":43,
      "title":"χ","titleAngle":180,"titleAlign":"center","titleBaseline":"middle","titleX":94,"titleY":80}},
    "xError":{"field":"s"},
    "y":{"field":"e","type":"quantitative","scale":{"type":"log","domain":[0.5,10],"nice":false},
     "axis":{"orient":"right","values":[0.5,0.6,0.7,0.8,0.9,1,2,3,4,5,6,7,8,9,10],"tickSize":-9,"labelAngle":270,"labelAlign":"center","labelBaseline":"middle","labelPadding":34,
      "labelExpr":"datum.value == 0.5 ? '0.5' : datum.value == 1 ? '1' : datum.value == 2 ? '2' : datum.value == 5 ? '5' : datum.value == 10 ? '10' : ''",
      "title":"Energy [keV]","titleAngle":270,"titleAlign":"center","titleBaseline":"middle","titleX":64,"titleY":430}},
    "color":{"field":"d","type":"nominal","scale":{"domain":["XIS0","XIS1","XIS2","XIS3"],"range":["#000000","#ff0000","#00ff00","#0000ff"]},"legend":null}}},
  {"data":{"name":"spec"},
   "mark":{"type":"errorbar","ticks":false,"thickness":2,"clip":true},
   "encoding":{
    "x":{"field":"r","type":"quantitative","scale":{"type":"linear","domain":[-5,5],"reverse":true,"nice":false,"zero":false},
     "axis":{"orient":"bottom","values":[-5,-4,-3,-2,-1,0,1,2,3,4,5],"tickSize":-7,"labels":false,"title":null}},
    "y":{"field":"e","type":"quantitative","scale":{"type":"log","domain":[0.5,10],"nice":false},
     "axis":{"orient":"left","values":[0.5,0.6,0.7,0.8,0.9,1,2,3,4,5,6,7,8,9,10],"tickSize":-7,"labels":false,"title":null}},
    "yError":{"field":"w"},
    "color":{"field":"d","type":"nominal","scale":{"domain":["XIS0","XIS1","XIS2","XIS3"],"range":["#000000","#ff0000","#00ff00","#0000ff"]},"legend":null}}}
 ]
}
]
}
